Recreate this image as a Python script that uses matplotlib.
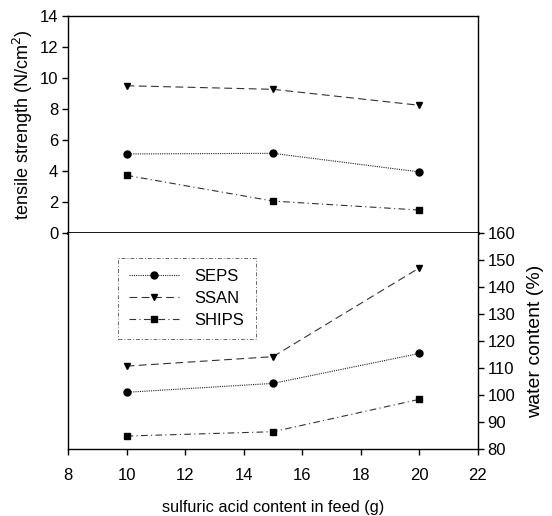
import matplotlib
matplotlib.use("Agg")
import matplotlib.pyplot as plt

plt.rcParams['font.family'] = ['Liberation Sans', 'DejaVu Sans']

feed = [10, 15, 20]
tensile_seps = [5.1, 5.14, 3.94]
tensile_ssan = [9.5, 9.27, 8.24]
tensile_ships = [3.72, 2.06, 1.48]
water_seps = [101.0, 104.3, 115.4]
water_ssan = [110.7, 114.2, 147.1]
water_ships = [84.8, 86.4, 98.4]
series_names = ["SEPS", "SSAN", "SHIPS"]
x_ticks = [8, 10, 12, 14, 16, 18, 20, 22]
top_ticks = [0, 2, 4, 6, 8, 10, 12, 14]
bot_ticks = [80, 90, 100, 110, 120, 130, 140, 150, 160]

W, H = 552, 516
fig = plt.figure(figsize=(W / 100, H / 100), dpi=100)
L, R = 68, 478
T, M, B = 16, 233, 449
ax_top = fig.add_axes([L / W, (H - M) / H, (R - L) / W, (M - T) / H])
ax_bot = fig.add_axes([L / W, (H - B) / H, (R - L) / W, (B - M) / H])

styles = [
    dict(marker='o', linestyle=(0, (1, 1)), color='#222222'),
    dict(marker='v', linestyle=(0, (7, 4)), color='#333333'),
    dict(marker='s', linestyle=(0, (6, 3, 1, 3)), color='#333333'),
]
common = dict(linewidth=0.8, markersize=5, markerfacecolor='black', markeredgecolor='black')

for vals, st in zip([tensile_seps, tensile_ssan, tensile_ships], styles):
    ax_top.plot(feed, vals, **st, **common)
handles = []
for vals, st, name in zip([water_seps, water_ssan, water_ships], styles, series_names):
    h, = ax_bot.plot(feed, vals, label=name, **st, **common)
    handles.append(h)

fs = 12
for ax in (ax_top, ax_bot):
    ax.set_xlim(8, 22)
    for s in ax.spines.values():
        s.set_linewidth(1.0)

ax_top.set_ylim(0, 14)
ax_top.set_yticks(top_ticks)
ax_top.set_xticks([])
ax_top.tick_params(axis='y', direction='out', length=4, width=1, labelsize=fs, pad=3)
ax_top.spines['bottom'].set_linewidth(2.0)
ax_top.set_ylabel("tensile strength (N/cm$^2$)", fontsize=13, labelpad=3)

ax_bot.set_ylim(80, 160)
ax_bot.set_yticks(bot_ticks)
ax_bot.yaxis.tick_right()
ax_bot.yaxis.set_label_position('right')
ax_bot.tick_params(axis='y', direction='out', length=4, width=1, labelsize=fs, pad=3)
ax_bot.set_xticks(x_ticks)
ax_bot.tick_params(axis='x', direction='out', length=4, width=1, labelsize=fs, pad=10)
ax_bot.spines['top'].set_visible(False)
ax_bot.set_ylabel("water content (%)", fontsize=14, labelpad=8)
ax_bot.set_xlabel("sulfuric acid content in feed (g)", fontsize=11.7, labelpad=12)

leg = ax_bot.legend(handles=handles, loc='upper left', bbox_to_anchor=(0.121, 0.886),
                    fontsize=12, frameon=True, fancybox=False, handlelength=3.0,
                    borderpad=0.7, labelspacing=0.4, handletextpad=0.9, borderaxespad=0)
leg.get_frame().set_edgecolor('#444444')
leg.get_frame().set_linestyle((0, (4, 2, 1, 2)))
leg.get_frame().set_linewidth(0.7)

fig.savefig("out.png", dpi=100)
